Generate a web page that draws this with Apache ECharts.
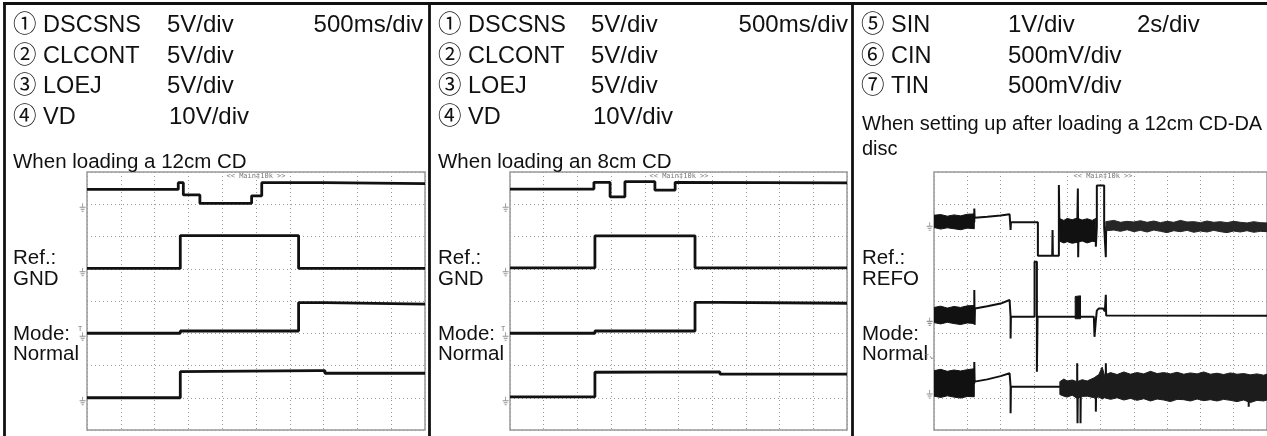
<!DOCTYPE html>
<html><head><meta charset="utf-8">
<script src="https://cdn.jsdelivr.net/npm/echarts@6/dist/echarts.min.js"></script>
<style>html,body{margin:0;padding:0;background:#fff}#c{width:1267px;height:436px}</style>
</head><body><div id="c"></div>
<script>
// ---- Text ----
const p1Names = ['① DSCSNS','② CLCONT','③ LOEJ','④ VD'];
const p1Scales = ['5V/div','5V/div','5V/div','10V/div'];
const p1Time = '500ms/div';
const p1Desc = ['When loading a 12cm CD'];
const p2Names = ['① DSCSNS','② CLCONT','③ LOEJ','④ VD'];
const p2Scales = ['5V/div','5V/div','5V/div','10V/div'];
const p2Time = '500ms/div';
const p2Desc = ['When loading an 8cm CD'];
const p3Names = ['⑤ SIN','⑥ CIN','⑦ TIN'];
const p3Scales = ['1V/div','500mV/div','500mV/div'];
const p3Time = '2s/div';
const p3Desc = ['When setting up after loading a 12cm CD-DA','disc'];
const p1Refs = ['Ref.:','GND','Mode:','Normal'];
const p2Refs = ['Ref.:','GND','Mode:','Normal'];
const p3Refs = ['Ref.:','REFO','Mode:','Normal'];
const scopeTag = '<< Main‡10k >>';

// ---- Data (x in divisions 0..10, y in divisions 0..8) ----
const p1Ch1 = [[0,7.46],[2.70,7.46],[2.70,7.67],[2.85,7.67],[2.85,7.29],[3.34,7.29],[3.34,7.03],[4.87,7.03],[4.87,7.26],[5.17,7.26],[5.17,7.67],[7.0,7.67],[7.0,7.64],[10,7.64]];
const p1Ch2 = [[0,5.01],[2.76,5.01],[2.76,6.03],[6.26,6.03],[6.26,5.01],[10,5.01]];
const p1Ch3 = [[0,3.0],[2.76,3.0],[2.76,3.07],[6.26,3.07],[6.26,3.95],[7.04,3.95],[7.04,3.9],[10,3.9]];
const p1Ch4 = [[0,1.0],[2.76,1.0],[2.76,1.81],[6.8,1.84],[7.04,1.84],[7.04,1.76],[10,1.76]];
const p1Zero = [7,5,3,1];

const p2Ch1 = [[0,7.47],[2.49,7.47],[2.49,7.68],[2.97,7.68],[2.97,7.23],[3.41,7.23],[3.41,7.70],[4.30,7.70],[4.30,7.44],[4.90,7.44],[4.90,7.68],[10,7.66]];
const p2Ch2 = [[0,5.03],[2.52,5.03],[2.52,6.02],[5.49,6.02],[5.49,5.03],[10,5.03]];
const p2Ch3 = [[0,3.0],[2.52,3.0],[2.52,3.07],[5.49,3.07],[5.49,3.96],[6.2,3.96],[6.2,3.93],[10,3.93]];
const p2Ch4 = [[0,1.03],[2.52,1.03],[2.52,1.79],[6.23,1.80],[6.23,1.73],[10,1.73]];
const p2Zero = [7,5,3,1];

const p3Ch5 = [[0,6.45],[1.21,6.45],[1.21,6.87],[1.22,6.58],[1.6,6.61],[2.0,6.65],[2.27,6.69],[2.29,6.69],[2.30,6.20],[2.31,6.44],[3.12,6.44],[3.12,5.40],[3.55,5.40],[3.56,6.20],[3.57,5.40],[3.75,5.40],[3.75,7.60],[3.77,6.20],[4.30,6.20],[4.32,7.49],[4.33,5.36],[4.34,6.20],[4.86,6.20],[4.86,5.68],[4.89,6.30],[4.89,7.58],[5.11,7.58],[5.11,6.30],[5.16,5.36],[5.17,6.30],[10,6.30]];
const p3Ch5Bands = [
  [[0,6.28,6.66],[0.2,6.23,6.68],[0.4,6.27,6.63],[0.6,6.24,6.67],[0.8,6.21,6.64],[1.0,6.26,6.69],[1.21,6.24,6.70]],
  [[3.78,5.85,6.55],[3.9,5.80,6.50],[4.0,5.84,6.56],[4.15,5.79,6.52],[4.3,5.82,6.57],[4.45,5.86,6.51],[4.6,5.80,6.55],[4.75,5.85,6.50],[4.86,5.84,6.56]],
  [[5.16,6.18,6.46],[5.4,6.20,6.50],[5.6,6.16,6.44],[5.8,6.21,6.47],[6.0,6.15,6.45],[6.2,6.19,6.49],[6.4,6.14,6.44],[6.6,6.20,6.48],[6.8,6.16,6.43],[7.0,6.12,6.47],[7.2,6.18,6.44],[7.4,6.15,6.50],[7.6,6.19,6.45],[7.8,6.13,6.46],[8.0,6.17,6.43],[8.2,6.14,6.48],[8.4,6.19,6.44],[8.6,6.15,6.46],[8.8,6.12,6.43],[9.0,6.17,6.47],[9.2,6.14,6.44],[9.4,6.18,6.42],[9.6,6.13,6.46],[9.8,6.16,6.43],[10,6.15,6.42]]
];
const p3Ch6 = [[0,3.55],[1.21,3.55],[1.21,4.34],[1.22,3.26],[1.23,3.77],[1.6,3.84],[2.0,3.92],[2.27,4.03],[2.29,4.03],[2.30,3.51],[2.30,2.84],[2.31,3.51],[3.02,3.51],[3.02,5.22],[3.09,5.22],[3.09,1.81],[3.11,3.51],[4.24,3.51],[4.40,3.51],[4.80,3.51],[4.82,2.89],[4.86,3.40],[4.89,3.70],[4.95,3.77],[5.08,3.77],[5.13,3.68],[5.16,4.19],[5.17,3.55],[10,3.54]];
const p3Ch6Bands = [
  [[0,3.33,3.80],[0.2,3.29,3.84],[0.4,3.34,3.78],[0.6,3.30,3.83],[0.8,3.27,3.80],[1.0,3.32,3.85],[1.21,3.30,3.86]],
  [[4.24,3.45,4.14],[4.40,3.45,4.16]]
];
const p3Ch7 = [[0,1.45],[1.21,1.45],[1.21,2.11],[1.22,1.5],[1.6,1.57],[2.0,1.67],[2.27,1.76],[2.29,1.76],[2.30,1.34],[2.30,0.52],[2.31,1.34],[3.76,1.34],[3.78,1.3],[4.30,1.3],[4.30,2.07],[4.31,0.21],[4.32,1.3],[4.40,1.3],[4.40,0.21],[4.41,1.3],[4.86,1.3],[4.86,0.57],[4.87,1.3],[5.16,1.35],[5.16,2.07],[5.17,1.35],[9.45,1.35],[9.45,0.72],[9.46,1.35],[10,1.35]];
const p3Ch7Bands = [
  [[0,1.05,1.84],[0.2,1.01,1.88],[0.4,1.06,1.82],[0.6,1.02,1.86],[0.8,0.99,1.83],[1.0,1.04,1.87],[1.21,1.03,1.90]],
  [[3.78,1.10,1.50],[3.9,1.05,1.58],[4.0,1.02,1.52],[4.15,1.08,1.55],[4.3,0.98,1.50],[4.45,1.04,1.56],[4.6,1.05,1.52],[4.81,1.00,1.62],[4.95,1.02,1.72],[5.05,0.96,1.95],[5.12,1.00,1.70],[5.3,0.95,1.78],[5.5,1.0,1.72],[5.7,0.93,1.80],[5.9,0.98,1.73],[6.1,0.92,1.78],[6.3,0.97,1.74],[6.5,0.90,1.82],[6.7,0.96,1.75],[6.9,0.93,1.78],[7.1,0.88,1.74],[7.3,0.95,1.79],[7.5,0.94,1.73],[7.7,0.90,1.77],[7.9,0.96,1.74],[8.1,0.91,1.80],[8.3,0.94,1.73],[8.5,0.90,1.76],[8.7,0.95,1.72],[8.9,0.92,1.77],[9.1,0.88,1.73],[9.3,0.93,1.75],[9.5,0.85,1.71],[9.7,0.92,1.74],[9.9,0.90,1.70],[10,0.93,1.73]]
];
const p3Zero = [6.41,3.46,1.21];

// ---- Layout ----
const FONT = '"Liberation Sans", Arial, "Noto Sans CJK JP", sans-serif';
const grids = [
  {left:87, top:172, width:338, height:258},
  {left:510, top:172, width:337, height:258},
  {left:934, top:172, width:338, height:258}
];
const chart = echarts.init(document.getElementById('c'), null, {renderer:'canvas'});

const xAxes = grids.map((g,i)=>({type:'value', gridIndex:i, min:0, max:10, interval:1,
  axisLine:{show:false}, axisTick:{show:false}, axisLabel:{show:false},
  splitLine:{show:true, lineStyle:{type:[1,3], color:'#9a9a9a', width:1}}}));
const yAxes = grids.map((g,i)=>({type:'value', gridIndex:i, min:0, max:8, interval:1,
  axisLine:{show:false}, axisTick:{show:false}, axisLabel:{show:false},
  splitLine:{show:true, lineStyle:{type:[1,3], color:'#9a9a9a', width:1}}}));

const series = [];
function trace(gi, data, w){
  series.push({type:'line', xAxisIndex:gi, yAxisIndex:gi, data:data, showSymbol:false, symbol:'none',
    lineStyle:{color:'#111', width:w}, animation:false, silent:true, clip:true, z:3});
}
function band(gi, b, color){
  series.push({type:'custom', xAxisIndex:gi, yAxisIndex:gi, data:b, clip:true, silent:true, animation:false, z:4,
    encode:{x:0, y:[1,2]},
    renderItem:function(params, api){
      if (params.dataIndex !== 0) return null;
      const pts = [];
      for (let i=0;i<b.length;i++) pts.push(api.coord([b[i][0], b[i][2]]));
      for (let i=b.length-1;i>=0;i--) pts.push(api.coord([b[i][0], b[i][1]]));
      return {type:'polygon', shape:{points:pts}, style:{fill:color, stroke:color, lineWidth:1}};
    }});
}
function grounds(gi, zeros){
  series.push({type:'scatter', xAxisIndex:gi, yAxisIndex:gi, clip:false, silent:true, animation:false,
    data: zeros.map(z=>[-0.13, z]), symbol:'path://M3,0L3,4M0,4L6,4M1,6L5,6M2,8L4,8', symbolSize:[6,8],
    symbolOffset:[0,3],
    itemStyle:{color:'none', borderColor:'#777', borderWidth:1}});
}
[p1Ch1,p1Ch2,p1Ch3,p1Ch4].forEach(d=>trace(0,d,2.8));
grounds(0,p1Zero);
[p2Ch1,p2Ch2,p2Ch3,p2Ch4].forEach(d=>trace(1,d,2.8));
grounds(1,p2Zero);
trace(2,p3Ch5,2); trace(2,p3Ch6,2); trace(2,p3Ch7,2);
p3Ch5Bands.forEach((b,i)=>band(2,b, i===2 ? '#262626' : '#111'));
p3Ch6Bands.forEach(b=>band(2,b,'#111'));
p3Ch7Bands.forEach((b,i)=>band(2,b, i===1 ? '#1c1c1c' : '#111'));
grounds(2,p3Zero);

// ---- Graphic text & frames ----
const g = [];
function txt(x,y,s,size,align){
  g.push({type:'text', x:x, y:y, silent:true, style:{text:s, fontFamily:FONT, fontSize:size, fill:'#111', align:align||'left', verticalAlign:'bottom'}});
}
const rowY = [37.5, 68, 98.5, 129];
const panelX = [4, 429, 852];
function header(pi, names, scales, time, valX, timeX, timeAlign){
  const x0 = panelX[pi] + 9;
  names.forEach((n,i)=>{ txt(x0, rowY[i], n, 23.5); txt(valX + (scales[i].length>6 && pi<2 ? 2 : 0), rowY[i], scales[i], 24); });
  txt(timeX, rowY[0], time, 24, timeAlign);
}
header(0, p1Names, p1Scales, p1Time, 167, 423, 'right');
header(1, p2Names, p2Scales, p2Time, 591, 848, 'right');
header(2, p3Names, p3Scales, p3Time, 1008, 1137, 'left');
txt(13, 172.5, p1Desc[0], 20.5);
txt(438, 172.5, p2Desc[0], 20.5);
txt(862, 134.5, p3Desc[0], 20);
txt(862, 159.5, p3Desc[1], 20);
const refY = [269, 289.5, 344.5, 364.5];
[[13,p1Refs],[438,p2Refs],[862,p3Refs]].forEach(([x,r])=>r.forEach((s,i)=>txt(x, refY[i], s, 20.5)));
grids.forEach(gr=>{
  g.push({type:'text', x: gr.left + 169, y: 176, silent:true, style:{text:scopeTag, fontFamily:'"DejaVu Sans Mono", monospace', fontSize:7, fill:'#777', align:'center', verticalAlign:'middle'}});
});
// trigger markers
g.push({type:'text', x:80, y:329, silent:true, style:{text:'T', fontFamily:'"DejaVu Sans Mono", monospace', fontSize:7, fill:'#777', align:'center', verticalAlign:'middle'}});
g.push({type:'text', x:503, y:329, silent:true, style:{text:'T', fontFamily:'"DejaVu Sans Mono", monospace', fontSize:7, fill:'#777', align:'center', verticalAlign:'middle'}});
g.push({type:'text', x:929, y:357, silent:true, style:{text:'T↘', fontFamily:'"DejaVu Sans Mono", monospace', fontSize:7, fill:'#777', align:'center', verticalAlign:'middle'}});
// frames
const frameStyle = {stroke:'#111', lineWidth:2.8};
g.push({type:'line', silent:true, shape:{x1:4.5, y1:2, x2:4.5, y2:436}, style:frameStyle});
g.push({type:'line', silent:true, shape:{x1:3, y1:3.5, x2:1267, y2:3.5}, style:frameStyle});
g.push({type:'line', silent:true, shape:{x1:429.5, y1:2, x2:429.5, y2:436}, style:frameStyle});
g.push({type:'line', silent:true, shape:{x1:852.5, y1:2, x2:852.5, y2:436}, style:frameStyle});

chart.setOption({
  animation:false,
  backgroundColor:'#fff',
  grid: grids.map(gr=>Object.assign({show:true, borderColor:'#999', borderWidth:1.5, backgroundColor:'transparent'}, gr)),
  xAxis: xAxes, yAxis: yAxes,
  series: series,
  graphic: g
});
</script></body></html>
